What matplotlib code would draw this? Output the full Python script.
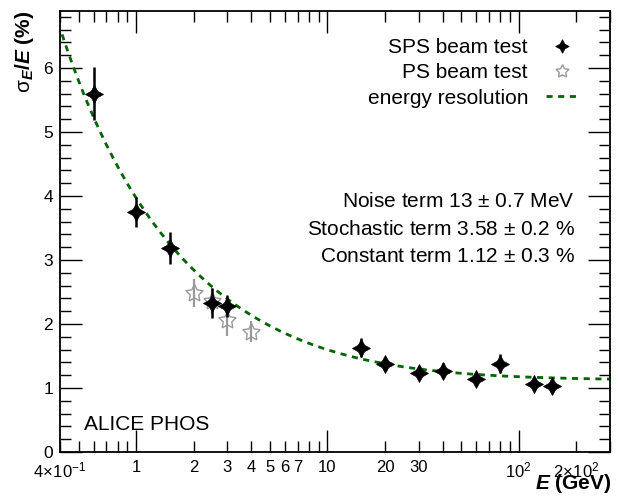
import numpy as np
import matplotlib
matplotlib.use("Agg")
import matplotlib.pyplot as plt
from matplotlib.ticker import FixedLocator, FixedFormatter

plt.rcParams['font.family'] = ['Liberation Sans', 'DejaVu Sans']
plt.rcParams['mathtext.fontset'] = 'custom'
plt.rcParams['mathtext.rm'] = 'Liberation Sans'
plt.rcParams['mathtext.it'] = 'Liberation Sans:italic'
plt.rcParams['mathtext.bf'] = 'Liberation Sans:bold'
plt.rcParams['mathtext.bfit'] = 'Liberation Sans:bold:italic'

# SPS beam test
sps_E = [0.6, 1.0, 1.5, 2.5, 3.0, 15, 20, 30, 40, 60, 80, 120, 150]
sps_res = [5.60, 3.75, 3.18, 2.33, 2.28, 1.63, 1.37, 1.24, 1.27, 1.14, 1.38, 1.06, 1.03]
sps_err = [0.42, 0.23, 0.25, 0.24, 0.17, 0.15, 0.10, 0.10, 0.12, 0.10, 0.15, 0.09, 0.10]

# PS beam test
ps_E = [2.0, 2.5, 3.0, 4.0]
ps_res = [2.48, 2.36, 2.06, 1.88]
ps_err = [0.22, 0.20, 0.25, 0.16]

# fit parameters (noise in % GeV, stochastic in % GeV^1/2, constant in %)
noise_a = 1.3
stoch_b = 3.58
const_c = 1.12
fit_range = [0.41, 300]

x_major = [1, 10, 100]
x_minor = [0.4, 0.5, 0.6, 0.7, 0.8, 0.9, 2, 3, 4, 5, 6, 7, 8, 9,
           20, 30, 40, 50, 60, 70, 80, 90, 200, 300]
x_major_labels = ['1', '10', r'$10^{2}$']
x_minor_label_map = {0.4: r'$4\!\times\!10^{-1}$', 2: '2', 3: '3', 4: '4', 5: '5', 6: '6',
                     7: '7', 20: '20', 30: '30', 200: r'$2\!\times\!10^{2}$'}

fig = plt.figure(figsize=(6.2, 4.96), dpi=100)
ax = fig.add_axes([60/620, 1-452/496, 550/620, 441/496])

E = np.logspace(np.log10(fit_range[0]), np.log10(fit_range[1]), 400)
res = np.sqrt((noise_a/E)**2 + stoch_b**2/E + const_c**2)
ax.plot(E, res, ls=(0, (2.2, 2.0)), color='#006400', lw=2.0, label='energy resolution', zorder=2)

ax.errorbar(ps_E, ps_res, yerr=ps_err, fmt='none', ecolor='#999999', elinewidth=1.6, zorder=3)
ax.plot(ps_E, ps_res, ls='none', marker=(5, 1, 0), ms=13, mfc='none', mec='#999999',
        mew=1.0, label='PS beam test', zorder=3)

ax.errorbar(sps_E, sps_res, yerr=sps_err, fmt='none', ecolor='black', elinewidth=1.8, zorder=4)
ax.plot(sps_E, sps_res, ls='none', marker=(4, 1, 0), ms=13, mfc='black', mec='black',
        mew=0.5, label='SPS beam test', zorder=4)

ax.set_xscale('log')
ax.set_xlim(0.4, 300)
ax.set_ylim(0, 6.89)

ax.xaxis.set_major_locator(FixedLocator(x_major))
ax.xaxis.set_major_formatter(FixedFormatter(x_major_labels))
ax.xaxis.set_minor_locator(FixedLocator(x_minor))
ax.xaxis.set_minor_formatter(FixedFormatter([x_minor_label_map.get(v, '') for v in x_minor]))
ax.set_yticks(np.arange(0, 7, 1))
ax.set_yticks(np.arange(0, 6.9, 0.2), minor=True)

ax.tick_params(which='both', direction='in', top=True, right=True, labelsize=12.5, width=1.0,
               color='black')
ax.tick_params(axis='x', which='both', labelsize=12)
ax.tick_params(axis='x', which='major', length=16, pad=6)
ax.tick_params(axis='x', which='minor', length=8, pad=6)
ax.tick_params(axis='y', which='major', length=16, pad=5)
ax.tick_params(axis='y', which='minor', length=8)
for s in ax.spines.values():
    s.set_linewidth(1.3)

fig.text(611/620, 1-489/496, r'$\boldsymbol{E}$ (GeV)', ha='right', va='baseline',
         fontsize=15, fontweight='bold')
fig.text(25/620, 1-52/496, r'$\mathrm{\sigma}_{\boldsymbol{E}}$/$\boldsymbol{E}$ (%)',
         rotation=90, ha='center', va='center', fontsize=15, fontweight='bold')

handles, labels = ax.get_legend_handles_labels()
order = [labels.index('SPS beam test'), labels.index('PS beam test'), labels.index('energy resolution')]
leg = fig.legend([handles[i] for i in order], [labels[i] for i in order],
                 loc='upper right', bbox_to_anchor=(578/620, 1-38/496), frameon=False, fontsize=15,
                 markerfirst=False, handlelength=1.55, labelspacing=0.3, handletextpad=0.85,
                 borderaxespad=0.0, borderpad=0.0, markerscale=0.75)
for t in leg.get_texts():
    t.set_ha('right')

px = (575 - 60) / 550
ax.text(px, (452-202)/441, r'Noise term 13 $\pm$ 0.7 MeV', transform=ax.transAxes,
        ha='right', va='center', fontsize=15)
ax.text(px, (452-230)/441, r'Stochastic term 3.58 $\pm$ 0.2 %', transform=ax.transAxes,
        ha='right', va='center', fontsize=15)
ax.text(px, (452-257)/441, r'Constant term 1.12 $\pm$ 0.3 %', transform=ax.transAxes,
        ha='right', va='center', fontsize=15)
ax.text((84-60)/550, (452-424)/441, 'ALICE PHOS', transform=ax.transAxes,
        ha='left', va='center', fontsize=15)

fig.savefig('out.png', dpi=100)
